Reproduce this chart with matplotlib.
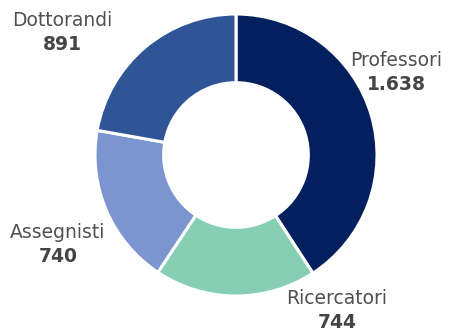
import matplotlib.pyplot as plt

# Staff by role
categories = ["Professori", "Ricercatori", "Assegnisti", "Dottorandi"]
values = [1638, 744, 740, 891]
value_labels = ["1.638", "744", "740", "891"]
colors = ["#021f5e", "#86cfb4", "#7b95d1", "#2f5597"]

# label anchor points in pixel coords (x, y of the name line)
label_pos = [(396, 61), (337, 298), (58, 232), (62, 21)]

W, H = 454, 329
fig = plt.figure(figsize=(W / 100, H / 100), dpi=100)
ax = fig.add_axes([0, 0, 1, 1])

# y axis runs downward, so angles are mirrored: start at -90 going counterclockwise
# in data space draws clockwise from the top on screen
ax.pie(
    values,
    colors=colors,
    startangle=-90,
    counterclock=True,
    center=(236, 155),
    radius=141,
    wedgeprops=dict(width=141 * 0.487, edgecolor="white", linewidth=2.2),
    frame=True,
)
ax.set_xlim(0, W)
ax.set_ylim(H, 0)
ax.set_aspect("equal")
ax.axis("off")

for name, val, (x, y) in zip(categories, value_labels, label_pos):
    ax.text(x, y, name, ha="center", va="center", fontsize=13.5, color="#505050")
    ax.text(x, y + 24, val, ha="center", va="center", fontsize=13.5,
            fontweight="bold", color="#454545")

fig.savefig("out.png", dpi=100)
